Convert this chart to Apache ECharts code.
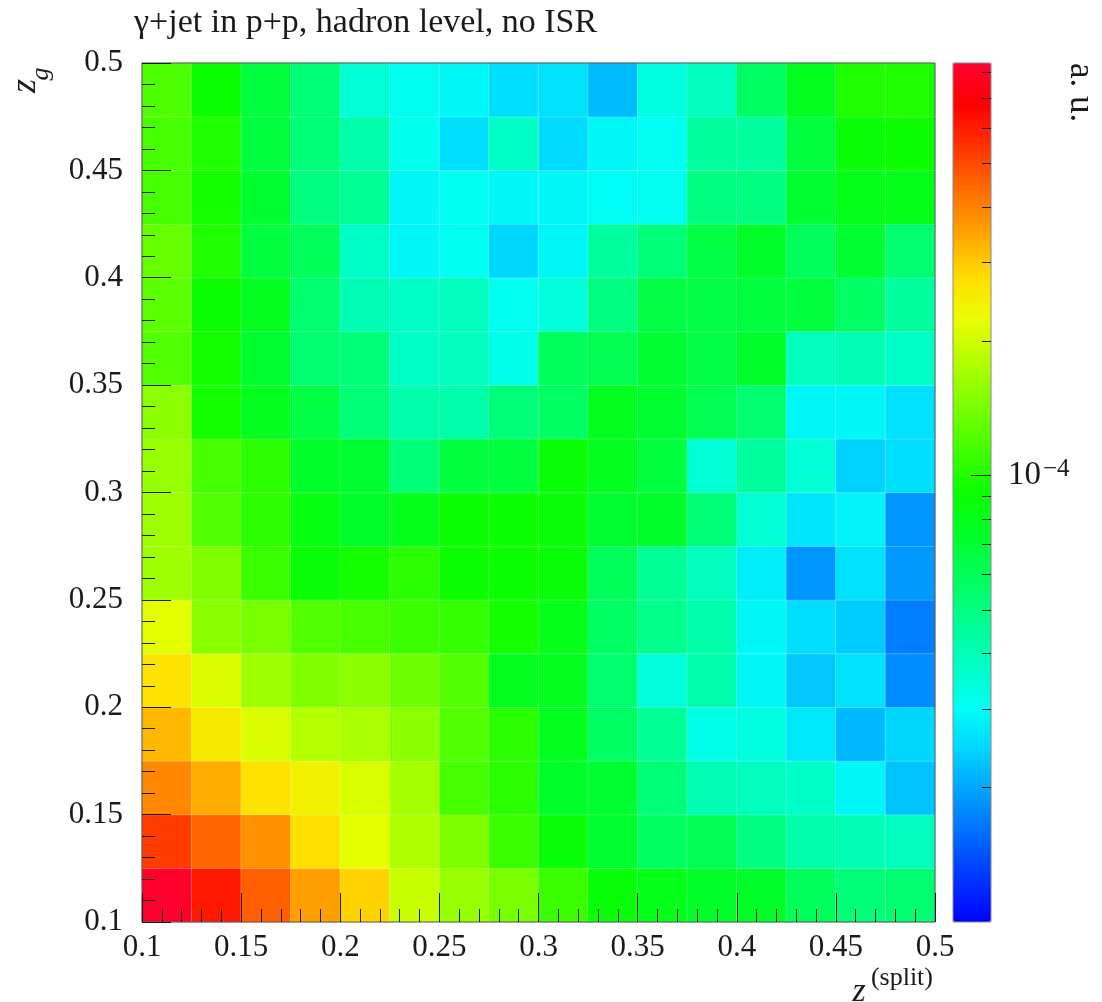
<!DOCTYPE html>
<html>
<head>
<meta charset="utf-8">
<script src="https://cdn.jsdelivr.net/npm/echarts@6/dist/echarts.min.js"></script>
<style>
  html, body { margin: 0; padding: 0; background: #fff; }
  #chart { width: 1102px; height: 1002px; }
</style>
</head>
<body>
<div id="chart"></div>
<script>
  // lower bin edges, 16 bins of 0.025
  const xBins = ['0.1', '0.125', '0.15', '0.175', '0.2', '0.225', '0.25', '0.275',
                 '0.3', '0.325', '0.35', '0.375', '0.4', '0.425', '0.45', '0.475'];
  const yBins = xBins.slice();

  // colour scale range (a. u., log)
  const zRange = [1e-5, 8.4e-4];
  const cbarMinorTicks = [2e-5, 3e-5, 4e-5, 5e-5, 6e-5, 7e-5, 8e-5, 9e-5,
                          2e-4, 3e-4, 4e-4, 5e-4, 6e-4, 7e-4, 8e-4];
  const cbarMajorTicks = [1e-4];

  // rows from z_g = 0.1 (bottom) up to 0.5, each row runs z_split 0.1 -> 0.5
  const zValues = [
    [8.2e-4, 6.1e-4, 4.6e-4, 3.55e-4, 2.9e-4, 1.95e-4, 1.6e-4, 1.42e-4, 1.11e-4, 8.8e-5, 8.0e-5, 7.4e-5, 7.4e-5, 5.9e-5, 5.2e-5, 5.4e-5],
    [5.3e-4, 4.5e-4, 3.77e-4, 2.74e-4, 2.19e-4, 1.77e-4, 1.45e-4, 1.11e-4, 8.8e-5, 7.1e-5, 5.7e-5, 6.2e-5, 5.0e-5, 4.2e-5, 4.0e-5, 3.85e-5],
    [3.9e-4, 3.4e-4, 2.68e-4, 2.43e-4, 2.07e-4, 1.7e-4, 1.16e-4, 1.03e-4, 7.4e-5, 7.1e-5, 5.2e-5, 4.0e-5, 3.85e-5, 3.7e-5, 2.9e-5, 2.25e-5],
    [3.2e-4, 2.58e-4, 2.1e-4, 1.8e-4, 1.73e-4, 1.53e-4, 1.21e-4, 1.03e-4, 7.7e-5, 5.7e-5, 4.6e-5, 3.2e-5, 3.3e-5, 2.7e-5, 2.16e-5, 2.45e-5],
    [2.68e-4, 2.1e-4, 1.66e-4, 1.47e-4, 1.53e-4, 1.36e-4, 1.21e-4, 7.7e-5, 7.7e-5, 5.4e-5, 3.4e-5, 4.2e-5, 2.9e-5, 2.3e-5, 2.6e-5, 1.8e-5],
    [2.19e-4, 1.53e-4, 1.42e-4, 1.21e-4, 1.16e-4, 1.11e-4, 1.07e-4, 9.5e-5, 8.0e-5, 5.7e-5, 4.8e-5, 4.2e-5, 2.9e-5, 2.56e-5, 2.35e-5, 1.69e-5],
    [1.66e-4, 1.47e-4, 1.11e-4, 8.8e-5, 9.5e-5, 1.03e-4, 9.1e-5, 9.1e-5, 8.8e-5, 5.9e-5, 4.6e-5, 3.85e-5, 2.78e-5, 1.87e-5, 2.6e-5, 1.9e-5],
    [1.66e-4, 1.21e-4, 1.03e-4, 8.4e-5, 7.4e-5, 8.0e-5, 9.1e-5, 9.1e-5, 8.8e-5, 7.1e-5, 7.4e-5, 5.2e-5, 3.5e-5, 2.66e-5, 2.85e-5, 1.87e-5],
    [1.6e-4, 1.16e-4, 1.03e-4, 7.4e-5, 7.1e-5, 5.2e-5, 6.7e-5, 6.7e-5, 8.8e-5, 7.7e-5, 6.7e-5, 3.5e-5, 4.4e-5, 3.5e-5, 2.4e-5, 2.56e-5],
    [1.53e-4, 9.5e-5, 7.7e-5, 6.5e-5, 5.2e-5, 4.2e-5, 4.2e-5, 5.2e-5, 5.7e-5, 7.7e-5, 7.1e-5, 6.2e-5, 5.4e-5, 2.9e-5, 2.9e-5, 2.6e-5],
    [1.21e-4, 9.5e-5, 7.1e-5, 5.4e-5, 5.2e-5, 3.7e-5, 3.85e-5, 3.2e-5, 5.9e-5, 6.2e-5, 7.1e-5, 6.5e-5, 7.4e-5, 3.85e-5, 4.0e-5, 3.7e-5],
    [1.26e-4, 9.1e-5, 7.7e-5, 5.4e-5, 4.0e-5, 3.7e-5, 3.85e-5, 3.1e-5, 3.4e-5, 5.0e-5, 6.5e-5, 6.5e-5, 6.7e-5, 6.7e-5, 5.7e-5, 4.4e-5],
    [1.31e-4, 9.9e-5, 6.7e-5, 5.9e-5, 3.7e-5, 2.9e-5, 3.1e-5, 2.45e-5, 2.9e-5, 4.4e-5, 5.2e-5, 6.5e-5, 7.4e-5, 5.9e-5, 7.1e-5, 5.4e-5],
    [1.16e-4, 9.5e-5, 7.1e-5, 5.0e-5, 4.6e-5, 2.9e-5, 3.1e-5, 2.9e-5, 2.9e-5, 3.0e-5, 3.1e-5, 5.0e-5, 5.0e-5, 7.1e-5, 8.0e-5, 8.0e-5],
    [1.16e-4, 9.9e-5, 6.7e-5, 5.2e-5, 4.2e-5, 3.15e-5, 2.56e-5, 3.7e-5, 2.5e-5, 2.9e-5, 3.1e-5, 4.4e-5, 4.4e-5, 6.7e-5, 8.8e-5, 9.1e-5],
    [1.19e-4, 9.1e-5, 6.7e-5, 5.2e-5, 3.5e-5, 3.1e-5, 2.9e-5, 2.56e-5, 2.6e-5, 2.2e-5, 3.3e-5, 3.85e-5, 5.7e-5, 7.7e-5, 9.9e-5, 9.9e-5],
  ];

  // blue -> cyan -> green -> yellow -> red
  const PALETTE = [
    '#0000ff', '#0035ff', '#006aff', '#009fff', '#00d5ff', '#00fff5', '#00ffc2',
    '#00ff8f', '#00ff5c', '#00ff29', '#0bff00', '#43ff00', '#7aff00', '#b1ff00',
    '#e9ff00', '#ffde00', '#ffa600', '#ff6f00', '#ff3700', '#ff0000', '#ff0033',
  ];
  const FONT = '"Liberation Serif", "DejaVu Serif", serif';
  const INK = '#1a1a1a';

  const cells = [];
  zValues.forEach((row, yi) => {
    row.forEach((v, xi) => cells.push([xi, yi, Math.log10(v)]));
  });

  const logMin = Math.log10(zRange[0]);
  const logMax = Math.log10(zRange[1]);

  const valueAxisCommon = {
    type: 'value',
    gridIndex: 0,
    min: 0.1,
    max: 0.5,
    interval: 0.05,
    z: 6,
    axisLine: { show: false, onZero: false },
    splitLine: { show: false },
    axisTick: { inside: true, length: 29, lineStyle: { color: INK, width: 1 } },
    minorTick: { show: true, splitNumber: 5, length: 13, lineStyle: { color: INK, width: 1 } },
  };

  // colour bar: same box used by two grids so each tick set gets its own right-hand axis
  const cbarBox = { left: 953, top: 63, width: 38, height: 859 };

  function cbarAxis(gridIndex, ticks, length, extra) {
    return Object.assign({
      type: 'value', gridIndex: gridIndex, position: 'right', min: logMin, max: logMax, z: 12,
      axisLine: { show: false, onZero: false }, splitLine: { show: false },
      axisTick: { inside: true, length: length, customValues: ticks.map(Math.log10),
                  lineStyle: { color: INK } },
      axisLabel: { show: false },
    }, extra || {});
  }

  const chart = echarts.init(document.getElementById('chart'), null, { renderer: 'canvas' });

  const option = {
    animation: false,
    backgroundColor: '#ffffff',
    title: {
      text: 'γ+jet in p+p, hadron level, no ISR',
      left: 134,
      top: 6,
      padding: 0,
      textStyle: { fontFamily: FONT, fontSize: 34, fontWeight: 'normal', color: INK },
    },
    grid: [
      { left: 142, top: 63, width: 793, height: 859, show: true, z: 4,
        backgroundColor: 'transparent', borderColor: '#555', borderWidth: 1 },
      Object.assign({ show: true, z: 10, backgroundColor: 'transparent',
                      borderColor: '#888', borderWidth: 1 }, cbarBox),
      Object.assign({ show: false }, cbarBox),
    ],
    xAxis: [
      { type: 'category', gridIndex: 0, data: xBins, show: false },
      Object.assign({}, valueAxisCommon, {
        position: 'bottom',
        axisLabel: { margin: 10, fontFamily: FONT, fontSize: 31, color: INK,
                     showMinLabel: true, showMaxLabel: true },
      }),
      { type: 'value', gridIndex: 1, show: false, min: 0, max: 1 },
      { type: 'value', gridIndex: 2, show: false, min: 0, max: 1 },
    ],
    yAxis: [
      { type: 'category', gridIndex: 0, data: yBins, show: false },
      Object.assign({}, valueAxisCommon, {
        position: 'left',
        axisLabel: { margin: 19, fontFamily: FONT, fontSize: 31, color: INK,
                     showMinLabel: true, showMaxLabel: true },
      }),
      cbarAxis(1, cbarMinorTicks, 9),
      cbarAxis(2, cbarMajorTicks, 20, {
        axisLabel: {
          customValues: cbarMajorTicks.map(Math.log10),
          margin: 17,
          formatter: (v) => '{b|10}{e|−' + Math.abs(Math.round(v)) + '}',
          rich: {
            b: { fontFamily: FONT, fontSize: 33, color: INK },
            e: { fontFamily: FONT, fontSize: 25, color: INK, verticalAlign: 'top', padding: [0, 0, 12, 2] },
          },
        },
      }),
    ],
    visualMap: {
      type: 'continuous',
      min: logMin,
      max: logMax,
      dimension: 2,
      seriesIndex: 0,
      orient: 'vertical',
      left: cbarBox.left,
      top: cbarBox.top,
      itemWidth: cbarBox.width,
      itemHeight: cbarBox.height,
      padding: 0,
      calculable: false,
      hoverLink: false,
      text: null,
      inRange: { color: PALETTE },
    },
    series: [
      {
        type: 'heatmap',
        xAxisIndex: 0,
        yAxisIndex: 0,
        data: cells,
        itemStyle: { borderColor: 'rgba(255,255,255,0.22)', borderWidth: 1 },
        emphasis: { disabled: true },
      },
    ],
    graphic: [
      { type: 'text', x: 26, y: 86, rotation: Math.PI / 2,
        style: { text: 'z', fontFamily: FONT, fontStyle: 'italic', fontSize: 36, fill: INK,
                 textAlign: 'center', textVerticalAlign: 'middle' } },
      { type: 'text', x: 41, y: 74, rotation: Math.PI / 2,
        style: { text: 'g', fontFamily: FONT, fontStyle: 'italic', fontSize: 26, fill: INK,
                 textAlign: 'center', textVerticalAlign: 'middle' } },
      { type: 'text', x: 859, y: 992,
        style: { text: 'z', fontFamily: FONT, fontStyle: 'italic', fontSize: 34, fill: INK,
                 textAlign: 'center', textVerticalAlign: 'middle' } },
      { type: 'text', x: 933, y: 978,
        style: { text: '(split)', fontFamily: FONT, fontSize: 26, fill: INK,
                 textAlign: 'right', textVerticalAlign: 'middle' } },
      { type: 'text', x: 1080, y: 63, rotation: -Math.PI / 2,
        style: { text: 'a. u.', fontFamily: FONT, fontSize: 35, fill: INK,
                 textAlign: 'left', textVerticalAlign: 'middle' } },
    ],
  };

  chart.setOption(option);
</script>
</body>
</html>
